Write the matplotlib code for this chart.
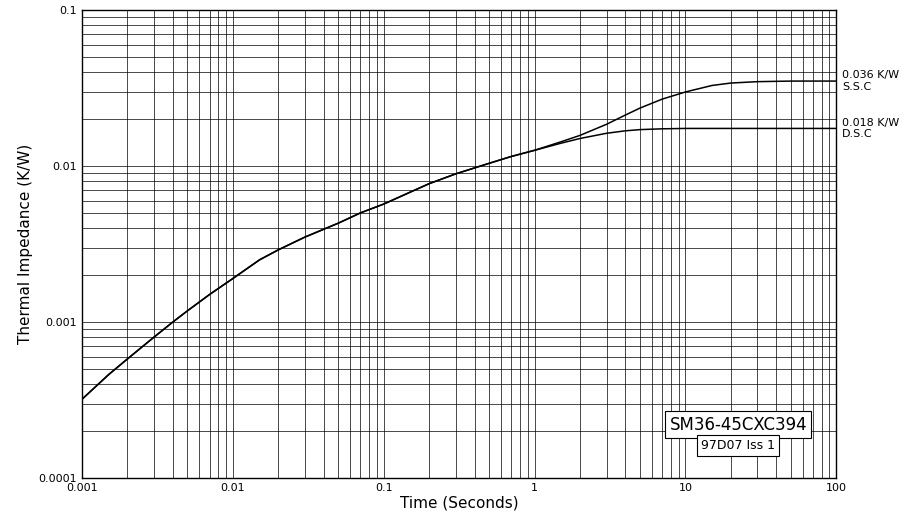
import numpy as np
import matplotlib.pyplot as plt
from matplotlib.ticker import LogLocator, FixedLocator, NullFormatter

# Values
time_s = [0.001, 0.0015, 0.002, 0.003, 0.004, 0.005, 0.007, 0.01, 0.015, 0.02, 0.03, 0.05, 0.07,
          0.1, 0.15, 0.2, 0.3, 0.5, 0.7, 1, 1.5, 2, 3, 4, 5, 7, 10, 15, 20, 30, 50, 100]
zth_ssc = [0.00032, 0.00046, 0.00058, 0.0008, 0.001, 0.00118, 0.0015, 0.0019, 0.0025, 0.0029, 0.0035,
           0.0043, 0.005, 0.0057, 0.0068, 0.0077, 0.0089, 0.0104, 0.0115, 0.0126, 0.0143, 0.0157,
           0.0185, 0.0212, 0.0235, 0.0268, 0.0298, 0.0328, 0.0340, 0.0347, 0.0350, 0.0350]
zth_dsc = [0.00032, 0.00046, 0.00058, 0.0008, 0.001, 0.00118, 0.0015, 0.0019, 0.0025, 0.0029, 0.0035,
           0.0043, 0.005, 0.0057, 0.0068, 0.0077, 0.0089, 0.0104, 0.0115, 0.0126, 0.0140, 0.0150,
           0.0162, 0.0168, 0.0171, 0.0173, 0.0174, 0.0174, 0.0174, 0.0174, 0.0174, 0.0174]

x_ticks = [0.001, 0.01, 0.1, 1, 10, 100]
x_labels = ["0.001", "0.01", "0.1", "1", "10", "100"]
y_ticks = [0.0001, 0.001, 0.01, 0.1]
y_labels = ["0.0001", "0.001", "0.01", "0.1"]

fig = plt.figure(figsize=(9.22, 5.23), dpi=100)
ax = fig.add_axes([0.089, 0.086, 0.818, 0.895])

ax.plot(time_s, zth_ssc, color="black", lw=1.1)
ax.plot(time_s, zth_dsc, color="black", lw=1.1)

ax.set_xscale("log")
ax.set_yscale("log")
ax.set_xlim(0.001, 100)
ax.set_ylim(0.0001, 0.1)
ax.xaxis.set_major_locator(FixedLocator(x_ticks))
ax.yaxis.set_major_locator(FixedLocator(y_ticks))
ax.set_xticklabels(x_labels, fontsize=8)
ax.set_yticklabels(y_labels, fontsize=8)
ax.xaxis.set_minor_locator(LogLocator(base=10, subs=np.arange(2, 10)))
ax.yaxis.set_minor_locator(LogLocator(base=10, subs=np.arange(2, 10)))
ax.xaxis.set_minor_formatter(NullFormatter())
ax.yaxis.set_minor_formatter(NullFormatter())
ax.tick_params(which="both", length=0)
ax.grid(which="both", color="black", lw=0.5)
for s in ax.spines.values():
    s.set_linewidth(1.0)

ax.set_xlabel("Time (Seconds)", fontsize=11, labelpad=2)
ax.set_ylabel("Thermal Impedance (K/W)", fontsize=11)

ax.text(1.008, 0.035, "0.036 K/W\nS.S.C", transform=ax.get_yaxis_transform(),
        fontsize=8, va="center", ha="left")
ax.text(1.008, 0.0174, "0.018 K/W\nD.S.C", transform=ax.get_yaxis_transform(),
        fontsize=8, va="center", ha="left")

# Part number box
ax.text(0.87, 0.095, "SM36-45CXC394", transform=ax.transAxes, fontsize=12,
        ha="center", va="bottom", bbox=dict(facecolor="white", edgecolor="black", lw=0.8, pad=3))
ax.text(0.87, 0.055, "97D07 Iss 1", transform=ax.transAxes, fontsize=9,
        ha="center", va="bottom", bbox=dict(facecolor="white", edgecolor="black", lw=0.8, pad=3))

fig.savefig("out.png", dpi=100)
